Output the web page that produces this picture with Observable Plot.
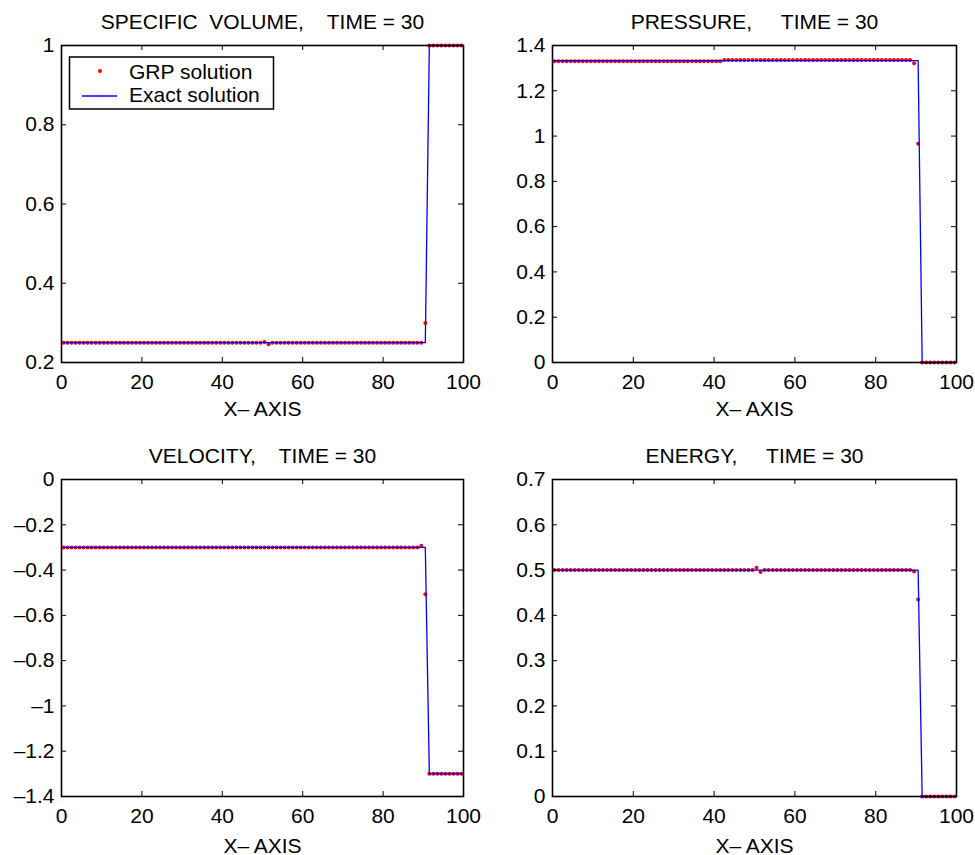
<!DOCTYPE html>
<html><head><meta charset="utf-8">
<script src="https://cdn.jsdelivr.net/npm/d3@7"></script>
<script src="https://cdn.jsdelivr.net/npm/@observablehq/plot@0.6"></script>
<style>
body{margin:0;background:#fff;}
#wrap{position:relative;width:975px;height:855px;font-family:"Liberation Sans",Arial,sans-serif;background:#fff;}
.panel{position:absolute;}
svg text{white-space:pre;}
</style></head><body><div id="wrap"></div>
<script>
// ---- data ----
const xGrid = d3.range(0.5, 100, 1); // 100 uniform cell centres
const xTicks = [0, 20, 40, 60, 80, 100];
const xLabel = "X\u2013 AXIS";
const legendLabels = ["GRP solution", "Exact solution"];

const titles = [
  "SPECIFIC  VOLUME,    TIME = 30",
  "PRESSURE,     TIME = 30",
  "VELOCITY,    TIME = 30",
  "ENERGY,     TIME = 30"
];

const volTicks = [0.2, 0.4, 0.6, 0.8, 1];
const presTicks = [0, 0.2, 0.4, 0.6, 0.8, 1, 1.2, 1.4];
const velTicks = [-1.4, -1.2, -1, -0.8, -0.6, -0.4, -0.2, 0];
const enTicks = [0, 0.1, 0.2, 0.3, 0.4, 0.5, 0.6, 0.7];

// GRP numerical solution (one value per cell)
const volGRP = [
  0.25,0.25,0.25,0.25,0.25,0.25,0.25,0.25,0.25,0.25,
  0.25,0.25,0.25,0.25,0.25,0.25,0.25,0.25,0.25,0.25,
  0.25,0.25,0.25,0.25,0.25,0.25,0.25,0.25,0.25,0.25,
  0.25,0.25,0.25,0.25,0.25,0.25,0.25,0.25,0.25,0.25,
  0.25,0.25,0.25,0.25,0.25,0.25,0.25,0.25,0.25,0.25,
  0.252,0.246,0.25,0.25,0.25,0.25,0.25,0.25,0.25,0.25,
  0.25,0.25,0.25,0.25,0.25,0.25,0.25,0.25,0.25,0.25,
  0.25,0.25,0.25,0.25,0.25,0.25,0.25,0.25,0.25,0.25,
  0.25,0.25,0.25,0.25,0.25,0.25,0.25,0.25,0.25,0.25,
  0.30,1,1,1,1,1,1,1,1,1
];
const presGRP = [
  1.330,1.330,1.330,1.330,1.330,1.330,1.330,1.330,1.330,1.330,
  1.330,1.330,1.330,1.330,1.330,1.330,1.330,1.330,1.330,1.330,
  1.330,1.330,1.330,1.330,1.330,1.330,1.330,1.330,1.330,1.330,
  1.330,1.330,1.330,1.330,1.330,1.330,1.330,1.330,1.330,1.330,
  1.330,1.330,1.336,1.336,1.336,1.336,1.336,1.336,1.336,1.336,
  1.336,1.336,1.336,1.336,1.336,1.336,1.336,1.336,1.336,1.336,
  1.336,1.336,1.336,1.336,1.336,1.336,1.336,1.336,1.336,1.336,
  1.336,1.336,1.336,1.336,1.336,1.336,1.336,1.336,1.336,1.336,
  1.336,1.336,1.336,1.336,1.336,1.336,1.336,1.336,1.336,1.322,
  0.966,0,0,0,0,0,0,0,0,0
];
const velGRP = [
  -0.3,-0.3,-0.3,-0.3,-0.3,-0.3,-0.3,-0.3,-0.3,-0.3,
  -0.3,-0.3,-0.3,-0.3,-0.3,-0.3,-0.3,-0.3,-0.3,-0.3,
  -0.3,-0.3,-0.3,-0.3,-0.3,-0.3,-0.3,-0.3,-0.3,-0.3,
  -0.3,-0.3,-0.3,-0.3,-0.3,-0.3,-0.3,-0.3,-0.3,-0.3,
  -0.3,-0.3,-0.3,-0.3,-0.3,-0.3,-0.3,-0.3,-0.3,-0.3,
  -0.3,-0.3,-0.3,-0.3,-0.3,-0.3,-0.3,-0.3,-0.3,-0.3,
  -0.3,-0.3,-0.3,-0.3,-0.3,-0.3,-0.3,-0.3,-0.3,-0.3,
  -0.3,-0.3,-0.3,-0.3,-0.3,-0.3,-0.3,-0.3,-0.3,-0.3,
  -0.3,-0.3,-0.3,-0.3,-0.3,-0.3,-0.3,-0.3,-0.3,-0.293,
  -0.507,-1.3,-1.3,-1.3,-1.3,-1.3,-1.3,-1.3,-1.3,-1.3
];
const enGRP = [
  0.5,0.5,0.5,0.5,0.5,0.5,0.5,0.5,0.5,0.5,
  0.5,0.5,0.5,0.5,0.5,0.5,0.5,0.5,0.5,0.5,
  0.5,0.5,0.5,0.5,0.5,0.5,0.5,0.5,0.5,0.5,
  0.5,0.5,0.5,0.5,0.5,0.5,0.5,0.5,0.5,0.5,
  0.5,0.5,0.5,0.5,0.5,0.5,0.5,0.5,0.5,0.5,
  0.505,0.4955,0.5,0.5,0.5,0.5,0.5,0.5,0.5,0.5,
  0.5,0.5,0.5,0.5,0.5,0.5,0.5,0.5,0.5,0.5,
  0.5,0.5,0.5,0.5,0.5,0.5,0.5,0.5,0.5,0.5,
  0.5,0.5,0.5,0.5,0.5,0.5,0.5,0.5,0.5,0.497,
  0.435,0,0,0,0,0,0,0,0,0
];

// Exact solution (polyline vertices)
const exactX = [0.5, 90.5, 91.5, 99.5];
const volExact = [0.25, 0.25, 1, 1];
const presExact = [4/3, 4/3, 0, 0];
const velExact = [-0.3, -0.3, -1.3, -1.3];
const enExact = [0.5, 0.5, 0, 0];

// ---- rendering ----
const FONT = '"Liberation Sans", Arial, Helvetica, sans-serif';
const FS = 21;
const fmt = d => String(d).replace("-", "\u2013");

function panel(cfg) {
  const pts = xGrid.map((x, i) => ({x, y: cfg.grp[i]}));
  const ex = exactX.map((x, i) => ({x, y: cfg.exact[i]}));
  const iw = cfg.width - cfg.ml - cfg.mr;
  const ih = cfg.height - cfg.mt - cfg.mb;
  const svg = Plot.plot({
    width: cfg.width, height: cfg.height,
    marginLeft: cfg.ml, marginRight: cfg.mr, marginTop: cfg.mt, marginBottom: cfg.mb,
    x: {domain: [0, 100]},
    y: {domain: cfg.yDomain},
    style: {fontFamily: FONT, fontSize: FS + "px", background: "transparent", overflow: "visible", color: "black"},
    marks: [
      Plot.dot(pts, {x: "x", y: "y", r: 2, fill: "#ff0000", stroke: "none"}),
      Plot.line(ex, {x: "x", y: "y", stroke: "#0000ff", strokeWidth: 1.3}),
      Plot.tickX(xTicks, {x: d => d, insetTop: ih - 5, stroke: "black", strokeWidth: 1}),
      Plot.tickX(xTicks, {x: d => d, insetBottom: ih - 5, stroke: "black", strokeWidth: 1}),
      Plot.tickY(cfg.ticks, {y: d => d, insetRight: iw - 5, stroke: "black", strokeWidth: 1}),
      Plot.tickY(cfg.ticks, {y: d => d, insetLeft: iw - 5, stroke: "black", strokeWidth: 1}),
      Plot.axisX(xTicks, {tickSize: 0, tickPadding: 12, tickFormat: fmt, fontSize: FS, label: null}),
      Plot.axisY(cfg.ticks, {tickSize: 0, tickPadding: 7, tickFormat: fmt, fontSize: FS, label: null}),
      Plot.frame({stroke: "black", strokeWidth: 1.6}),
      Plot.text([cfg.title], {text: d => d, frameAnchor: "top", dy: -17, lineAnchor: "bottom", fontSize: FS, fill: "black"}),
      Plot.text([xLabel], {text: d => d, frameAnchor: "bottom", dy: cfg.labelDy, lineAnchor: "bottom", fontSize: FS, fill: "black"})
    ]
  });
  svg.classList.add("panel");
  svg.style.left = cfg.left + "px";
  svg.style.top = cfg.top + "px";
  svg.style.position = "absolute";
  svg.style.maxWidth = "none";
  return svg;
}

const wrap = document.getElementById("wrap");
const cfgs = [
  {title: titles[0], grp: volGRP, exact: volExact, yDomain: [0.2, 1], ticks: volTicks,
   left: 0, top: 0, width: 487, height: 427, ml: 61, mr: 24, mt: 45, mb: 65, labelDy: 53},
  {title: titles[1], grp: presGRP, exact: presExact, yDomain: [0, 1.4], ticks: presTicks,
   left: 487, top: 0, width: 488, height: 427, ml: 65, mr: 19, mt: 45, mb: 65, labelDy: 53},
  {title: titles[2], grp: velGRP, exact: velExact, yDomain: [-1.4, 0], ticks: velTicks,
   left: 0, top: 427, width: 487, height: 428, ml: 61, mr: 24, mt: 52, mb: 59, labelDy: 56},
  {title: titles[3], grp: enGRP, exact: enExact, yDomain: [0, 0.7], ticks: enTicks,
   left: 487, top: 427, width: 488, height: 428, ml: 65, mr: 19, mt: 52, mb: 59, labelDy: 56}
];
cfgs.forEach(c => wrap.appendChild(panel(c)));

// legend (first panel)
const leg = d3.create("svg")
  .attr("width", 975).attr("height", 855)
  .style("position", "absolute").style("left", "0px").style("top", "0px")
  .style("pointer-events", "none").style("font-family", FONT).style("font-size", FS + "px");
leg.append("rect").attr("x", 69.5).attr("y", 57).attr("width", 204).attr("height", 52)
  .attr("fill", "white").attr("stroke", "black").attr("stroke-width", 1.5);
leg.append("circle").attr("cx", 100).attr("cy", 71).attr("r", 2).attr("fill", "#ff0000");
leg.append("line").attr("x1", 82).attr("x2", 117).attr("y1", 96).attr("y2", 96)
  .attr("stroke", "#0000ff").attr("stroke-width", 1.3);
leg.append("text").attr("x", 129).attr("y", 79).text(legendLabels[0]);
leg.append("text").attr("x", 129).attr("y", 102).text(legendLabels[1]);
wrap.appendChild(leg.node());
</script>
</body></html>
